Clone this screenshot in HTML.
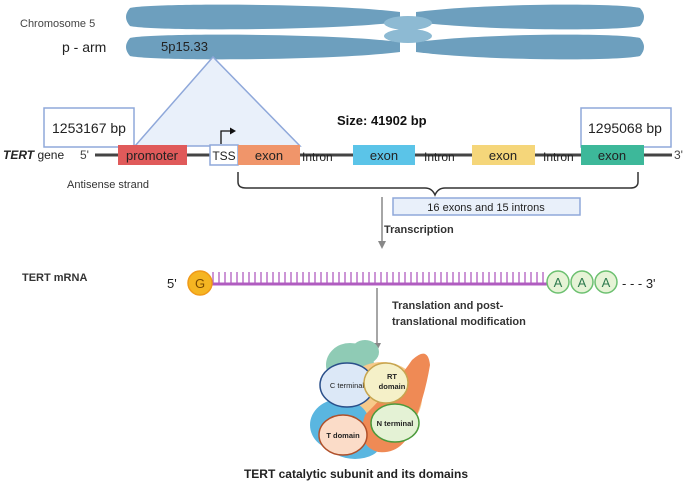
<!DOCTYPE html>
<html><head><style>
body{margin:0;background:#fff;}
svg{display:block;font-family:"Liberation Sans",sans-serif;}
</style></head><body>
<svg width="685" height="483" viewBox="0 0 685 483">
<rect width="685" height="483" fill="#fff"/>
<!-- chromosome -->
<g fill="#6d9fbe">
<path d="M400,12 C330,3 150,3 130,8 Q122,17 130,26 C150,31 330,31 400,22 Z"/>
<path d="M416,12 C486,3 620,3 640,8 Q648,17 640,26 C620,31 486,31 416,22 Z"/>
<path d="M400,42 C330,33 150,33 130,38 Q122,47 130,56 C150,61 330,61 400,52 Z"/>
<path d="M416,42 C486,33 620,33 640,38 Q648,47 640,56 C620,61 486,61 416,52 Z"/>
</g>
<ellipse cx="408" cy="23" rx="24" ry="7" fill="#8dbad3"/>
<ellipse cx="408" cy="36" rx="24" ry="7" fill="#8dbad3"/>
<text x="20" y="27" font-size="11" fill="#444">Chromosome 5</text>
<text x="62" y="52" font-size="14" fill="#222">p - arm</text>
<text x="161" y="51" font-size="13" fill="#222">5p15.33</text>
<!-- triangle -->
<polygon points="213,57 135,146 300,146" fill="#e9f0fa" stroke="#8fa8da" stroke-width="1.5"/>
<rect x="44" y="108" width="90" height="39" fill="#fff" stroke="#8fa8da" stroke-width="1.5"/>
<text x="52" y="133" font-size="14" fill="#222">1253167 bp</text>
<rect x="581" y="108" width="90" height="39" fill="#fff" stroke="#8fa8da" stroke-width="1.5"/>
<text x="588" y="133" font-size="14" fill="#222">1295068 bp</text>
<text x="337" y="125" font-size="13" font-weight="bold" fill="#111">Size: 41902 bp</text>
<!-- gene -->
<line x1="95" y1="155" x2="672" y2="155" stroke="#444" stroke-width="3"/>
<text x="3" y="159" font-size="12" fill="#222"><tspan font-style="italic" font-weight="bold">TERT</tspan> gene</text>
<text x="80" y="159" font-size="12" fill="#444">5'</text>
<text x="674" y="159" font-size="12" fill="#444">3'</text>
<rect x="118" y="145" width="69" height="20" fill="#e05a5a"/>
<text x="152" y="160" font-size="13" fill="#222" text-anchor="middle">promoter</text>
<rect x="210" y="145" width="28" height="20" fill="#fff" stroke="#8fa8da" stroke-width="1.5"/>
<text x="224" y="160" font-size="12" fill="#222" text-anchor="middle">TSS</text>
<path d="M221 144 V131 H232" fill="none" stroke="#111" stroke-width="1.3"/>
<polygon points="236,131 230,127.5 230,134.5" fill="#111"/>
<rect x="238" y="145" width="62" height="20" fill="#f0956a"/>
<text x="269" y="160" font-size="13" fill="#222" text-anchor="middle">exon</text>
<rect x="353" y="145" width="62" height="20" fill="#5bc4e8"/>
<text x="384" y="160" font-size="13" fill="#222" text-anchor="middle">exon</text>
<rect x="472" y="145" width="63" height="20" fill="#f5d67a"/>
<text x="503" y="160" font-size="13" fill="#222" text-anchor="middle">exon</text>
<rect x="581" y="145" width="63" height="20" fill="#3db89a"/>
<text x="612" y="160" font-size="13" fill="#222" text-anchor="middle">exon</text>
<text x="302" y="161" font-size="12" fill="#222">Intron</text>
<text x="424" y="161" font-size="12" fill="#222">Intron</text>
<text x="543" y="161" font-size="12" fill="#222">Intron</text>
<text x="67" y="188" font-size="11" fill="#333">Antisense strand</text>
<!-- brace -->
<path d="M238 172 V182 Q238 188 246 188 H425 Q432 188 435 195 Q438 188 445 188 H630 Q638 188 638 182 V172" fill="none" stroke="#333" stroke-width="1.5"/>
<rect x="393" y="198" width="187" height="17" fill="#e9f0fa" stroke="#8fa8da" stroke-width="1.5"/>
<text x="486" y="211" font-size="11" fill="#222" text-anchor="middle">16 exons and 15 introns</text>
<line x1="382" y1="197" x2="382" y2="243" stroke="#888" stroke-width="1.5"/>
<polygon points="382,249 378,241 386,241" fill="#888"/>
<text x="384" y="233" font-size="11" font-weight="bold" fill="#333">Transcription</text>
<!-- mRNA -->
<text x="22" y="281" font-size="11" font-weight="bold" fill="#333">TERT mRNA</text>
<text x="167" y="288" font-size="13" fill="#222">5'</text>
<line x1="205" y1="284" x2="548" y2="284" stroke="#b05cc0" stroke-width="3"/>
<g stroke="#b05cc0" stroke-width="1.3">
<path d="M213 284V272M219 284V272M225 284V272M231 284V272M237 284V272M243 284V272M249 284V272M255 284V272M261 284V272M267 284V272M273 284V272M279 284V272M285 284V272M291 284V272M297 284V272M303 284V272M309 284V272M315 284V272M321 284V272M327 284V272M333 284V272M339 284V272M345 284V272M351 284V272M357 284V272M363 284V272M369 284V272M375 284V272M381 284V272M387 284V272M393 284V272M399 284V272M405 284V272M411 284V272M417 284V272M423 284V272M429 284V272M435 284V272M441 284V272M447 284V272M453 284V272M459 284V272M465 284V272M471 284V272M477 284V272M483 284V272M489 284V272M495 284V272M501 284V272M507 284V272M513 284V272M519 284V272M525 284V272M531 284V272M537 284V272M543 284V272"/>
</g>
<circle cx="200" cy="283" r="12" fill="#f5b522" stroke="#f09a1a" stroke-width="1.5"/>
<text x="200" y="288" font-size="13" fill="#7a4a00" text-anchor="middle">G</text>
<g fill="#e6f3d6" stroke="#6cc070" stroke-width="1.5">
<circle cx="558" cy="282" r="11"/><circle cx="582" cy="282" r="11"/><circle cx="606" cy="282" r="11"/>
</g>
<g font-size="13" fill="#2e7a4e" text-anchor="middle">
<text x="558" y="287">A</text><text x="582" y="287">A</text><text x="606" y="287">A</text>
</g>
<text x="622" y="288" font-size="13" fill="#222">- - - 3'</text>
<line x1="377" y1="288" x2="377" y2="345" stroke="#888" stroke-width="1.5"/>
<polygon points="377,351 373,343 381,343" fill="#888"/>
<text x="392" y="309" font-size="11" font-weight="bold" fill="#333">Translation and post-</text>
<text x="392" y="325" font-size="11" font-weight="bold" fill="#333">translational modification</text>
<!-- protein -->
<ellipse cx="350" cy="365" rx="24" ry="22" fill="#8fcbb5"/>
<ellipse cx="365" cy="352" rx="14" ry="12" fill="#8fcbb5"/>
<ellipse cx="382" cy="398" rx="40" ry="36" fill="#f7c98a"/>
<ellipse cx="340" cy="425" rx="30" ry="26" fill="#5ab6e0"/>
<ellipse cx="355" cy="445" rx="25" ry="14" fill="#5ab6e0"/>
<path d="M365 415 Q395 385 412 360 Q428 345 430 365 Q425 395 415 420 Q405 455 378 452 Q355 445 365 415Z" fill="#ef8a55"/>
<ellipse cx="347" cy="385" rx="27" ry="22" fill="#dce8f7" stroke="#2a4f8a" stroke-width="1.5"/>
<text x="347" y="388" font-size="7.5" fill="#222" text-anchor="middle">C terminal</text>
<ellipse cx="386" cy="383" rx="22" ry="20" fill="#f5f0c8" stroke="#c7a550" stroke-width="1.5"/>
<text x="392" y="379" font-size="7.5" font-weight="bold" fill="#222" text-anchor="middle">RT</text>
<text x="392" y="389" font-size="7.5" font-weight="bold" fill="#222" text-anchor="middle">domain</text>
<ellipse cx="395" cy="423" rx="24" ry="19" fill="#e4f2d5" stroke="#4c9a3c" stroke-width="1.5"/>
<text x="395" y="426" font-size="7.5" font-weight="bold" fill="#222" text-anchor="middle">N terminal</text>
<ellipse cx="343" cy="435" rx="24" ry="20" fill="#fbdcc8" stroke="#b0502a" stroke-width="1.5"/>
<text x="343" y="438" font-size="7.5" font-weight="bold" fill="#222" text-anchor="middle">T domain</text>
<text x="356" y="478" font-size="12" font-weight="bold" fill="#222" text-anchor="middle">TERT catalytic  subunit and its domains</text>
</svg>
</body></html>
